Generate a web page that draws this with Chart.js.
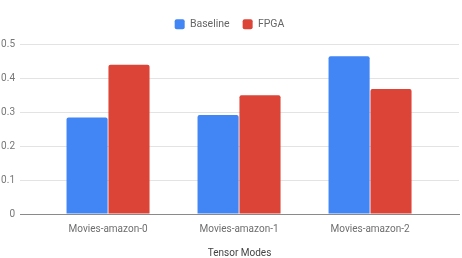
<!DOCTYPE html>
<html>
<head>
<meta charset="utf-8">
<script src="https://cdn.jsdelivr.net/npm/chart.js@4.4.1/dist/chart.umd.min.js"></script>
<style>
html,body{margin:0;padding:0;background:#fff;}
#wrap{width:462px;height:258px;}
</style>
</head>
<body>
<div id="wrap"><canvas id="c" width="462" height="258"></canvas></div>
<script>
const categories = ['Movies-amazon-0', 'Movies-amazon-1', 'Movies-amazon-2'];
const baseline = [0.285, 0.292, 0.465];
const fpga = [0.44, 0.35, 0.369];
const yTicks = [0, 0.1, 0.2, 0.3, 0.4, 0.5];
const seriesNames = ['Baseline', 'FPGA'];
const xTitle = 'Tensor Modes';

const FONT = 'Roboto, "Noto Sans", sans-serif';

const legendGap = {
  id: 'legendGap',
  beforeInit(chart) {
    const lg = chart.legend;
    if (!lg) return;
    const origFit = lg.fit;
    lg.fit = function () {
      origFit.call(this);
      this.height += 5;
    };
  }
};

new Chart(document.getElementById('c'), {
  type: 'bar',
  data: {
    datasets: [
      {
        label: seriesNames[0],
        data: baseline.map((v, i) => ({x: i, y: v})),
        backgroundColor: '#4285F4',
        borderRadius: 2,
        borderSkipped: 'bottom'
      },
      {
        label: seriesNames[1],
        data: fpga.map((v, i) => ({x: i, y: v})),
        backgroundColor: '#DB4437',
        borderRadius: 2,
        borderSkipped: 'bottom'
      }
    ]
  },
  plugins: [legendGap],
  options: {
    responsive: false,
    animation: false,
    devicePixelRatio: 1,
    categoryPercentage: 0.64,
    barPercentage: 0.98,
    layout: {padding: {top: 6, right: 3, bottom: 0, left: 0}},
    plugins: {
      legend: {
        position: 'top',
        align: 'center',
        labels: {
          boxWidth: 10,
          boxHeight: 10,
          padding: 13,
          useBorderRadius: true,
          borderRadius: 2,
          color: '#666',
          font: {family: FONT, size: 10.5}
        }
      },
      tooltip: {enabled: false}
    },
    scales: {
      x: {
        type: 'linear',
        offset: false,
        min: -0.672,
        max: 2.679,
        afterBuildTicks: (scale) => {
          scale.ticks = categories.map((c, i) => ({value: i}));
        },
        ticks: {
          callback: (v) => categories[v] ?? '',
          color: '#6e6e6e',
          font: {family: FONT, size: 10},
          padding: 9,
          maxRotation: 0,
          autoSkip: false
        },
        grid: {display: false, drawTicks: false, offset: false},
        border: {display: true, color: '#8a8a8a', width: 1},
        title: {
          display: true,
          text: xTitle,
          color: '#444',
          font: {family: FONT, size: 10, lineHeight: 1},
          padding: {top: 4, bottom: 0}
        }
      },
      y: {
        min: 0,
        max: 0.5,
        afterBuildTicks: (scale) => {
          scale.ticks = yTicks.map(v => ({value: v}));
        },
        afterFit: (scale) => {
          scale.width = 20;
        },
        ticks: {
          callback: (v) => String(v),
          color: '#777',
          font: {family: FONT, size: 10},
          padding: 5
        },
        grid: {
          drawTicks: false,
          color: (ctx) => ctx.tick && ctx.tick.value === 0 ? '#8a8a8a' : '#e3e3e3',
          lineWidth: 1
        },
        border: {display: false}
      }
    }
  }
});
</script>
</body>
</html>
